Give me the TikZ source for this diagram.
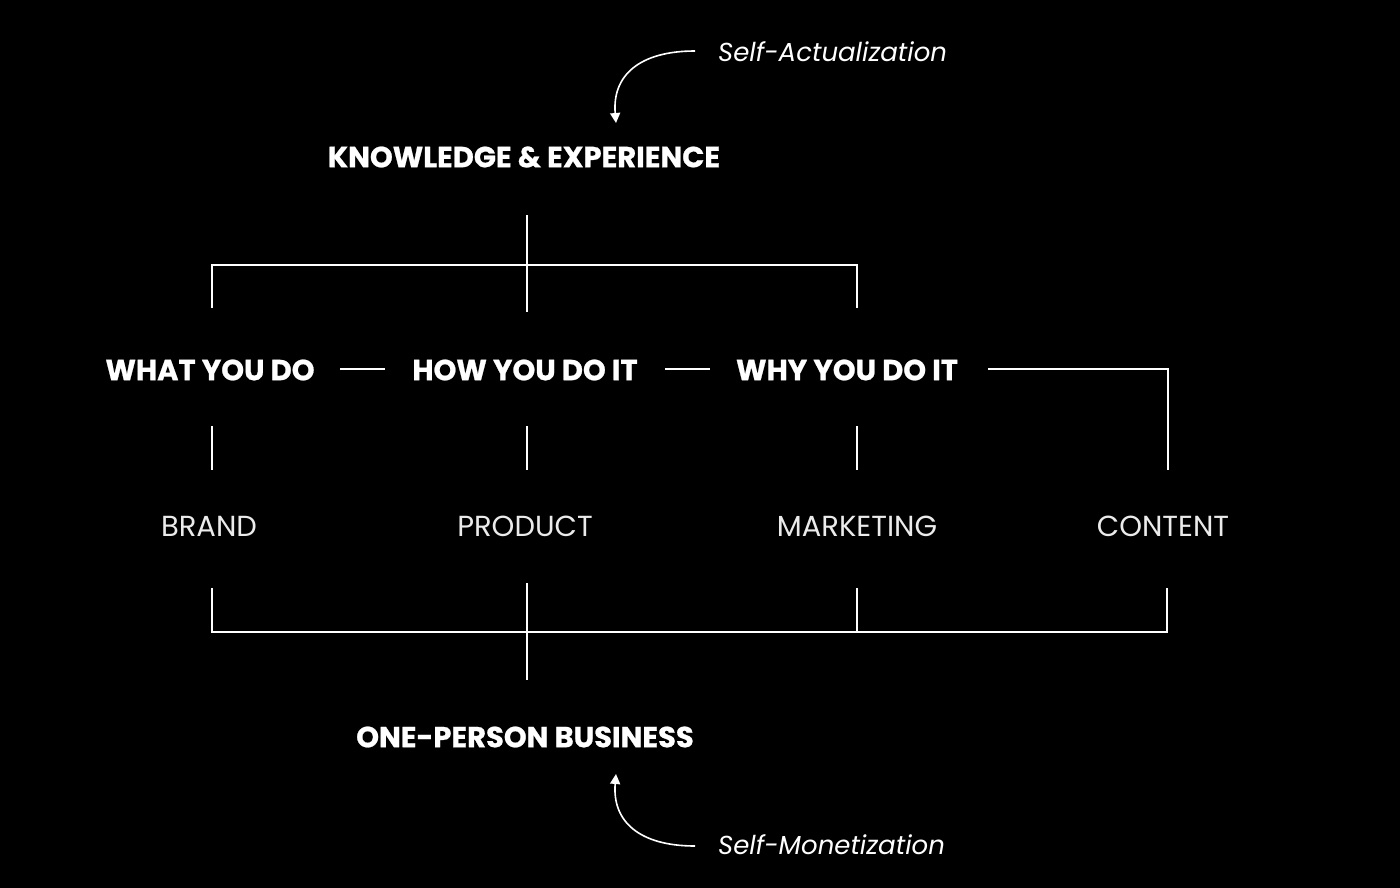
\documentclass[tikz,border=0pt]{standalone}
\usepackage{fontspec}
\setmainfont{Poppins}
\usetikzlibrary{arrows.meta}
\begin{document}
\begin{tikzpicture}[x=1pt,y=-1pt,
  ln/.style={draw=white,line width=1.8pt},
  hd/.style={text=white,font=\bfseries\addfontfeature{FakeBold=0.8}\fontsize{29}{32}\selectfont,inner sep=0pt,anchor=center},
  lb/.style={text=white!92!black,font=\fontsize{29}{32}\selectfont,inner sep=0pt,anchor=center},
  it/.style={text=white,font=\itshape\fontsize{26}{30}\selectfont,inner sep=0pt,anchor=west},
  arr/.style={draw=white,line width=1.6pt,-{Triangle[width=10pt,length=10pt]}}]
\fill[black] (0,0) rectangle (1400,888);
\useasboundingbox (0,0) rectangle (1400,888);
\node[hd] (ke) at (524,157) {KNOWLEDGE \& EXPERIENCE};
\node[hd] (what) at (210,370) {WHAT YOU DO};
\node[hd] (how) at (525,370) {HOW YOU DO IT};
\node[hd] (why) at (847,370) {WHY YOU DO IT};
\node[lb] (brand) at (209,526) {BRAND};
\node[lb] (product) at (525,526) {PRODUCT};
\node[lb] (marketing) at (857,526) {MARKETING};
\node[lb] (content) at (1163,526) {CONTENT};
\node[hd] (opb) at (525,737) {ONE-PERSON BUSINESS};
\node[it] (sa) at (718,52) {Self-Actualization};
\node[it] (sm) at (718,845) {Self-Monetization};
% top tree
\coordinate (t1) at (527,215); \coordinate (t2) at (527,312);
\coordinate (hl) at (212,265); \coordinate (hr) at (857,265);
\coordinate (hl2) at (212,308); \coordinate (hr2) at (857,308);
\draw[ln] (t1) -- (t2);
\draw[ln] (hl2) -- (hl) -- (hr) -- (hr2);
% dashes between
\coordinate (d1a) at (340,369); \coordinate (d1b) at (385,369);
\coordinate (d2a) at (665,369); \coordinate (d2b) at (710,369);
\draw[ln] (d1a) -- (d1b);
\draw[ln] (d2a) -- (d2b);
\coordinate (c1) at (988,369); \coordinate (c2) at (1168,369); \coordinate (c3) at (1168,470);
\draw[ln] (c1) -- (c2) -- (c3);
% middle verticals
\foreach \x in {212,527,857}{\draw[ln] (\x,426) -- (\x,470);}
% bottom tree
\draw[ln] (212,588) -- (212,632) -- (1167,632) -- (1167,588);
\draw[ln] (527,583) -- (527,680);
\draw[ln] (857,588) -- (857,632);
% arrows
\coordinate (a1s) at (695,51); \coordinate (a1e) at (616,123);
\coordinate (a2s) at (695,846); \coordinate (a2e) at (616,774);
\draw[arr] (a1s) .. controls (640,51) and (612,75) .. (a1e);
\draw[arr] (a2s) .. controls (640,846) and (612,822) .. (a2e);
\end{tikzpicture}
\end{document}
